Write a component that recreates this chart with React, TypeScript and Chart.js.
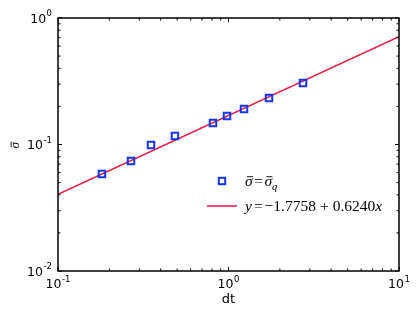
import React, { useEffect, useRef } from 'react';
import { Chart, registerables } from 'chart.js';
Chart.register(...registerables);

// Scatter data
const dtValues = [0.181, 0.268, 0.351, 0.485, 0.811, 0.98, 1.233, 1.728, 2.735];
const sigmaValues = [0.0585, 0.0741, 0.0991, 0.1167, 0.148, 0.168, 0.191, 0.233, 0.306];
// Fit line endpoints
const fitX = [0.1, 10];
const fitY = [0.0403, 0.7125];
// Tick labels
const xMajorTicks = [0.1, 1, 10];
const xTickExponents = ['-1', '0', '1'];
const yMajorTicks = [0.01, 0.1, 1];
const yTickExponents = ['-2', '-1', '0'];
const xAxisTitle = 'dt';

const BLUE = '#1634e8';
const RED = '#e8173f';

function minorTicks(min: number, max: number): number[] {
  const out: number[] = [];
  for (let d = Math.floor(Math.log10(min)); d < Math.ceil(Math.log10(max)); d++) {
    for (let k = 2; k <= 9; k++) {
      const v = k * Math.pow(10, d);
      if (v > min && v < max) out.push(v);
    }
  }
  return out;
}

function drawSigmaBar(ctx: CanvasRenderingContext2D, x: number, y: number, size: number, font: string) {
  ctx.font = `italic ${size}px ${font}`;
  ctx.fillText('σ', x, y);
  const w = ctx.measureText('σ').width;
  ctx.save();
  ctx.lineWidth = 0.9;
  ctx.beginPath();
  ctx.moveTo(x + w * 0.25, y - size * 0.6);
  ctx.lineTo(x + w * 1.05, y - size * 0.6);
  ctx.stroke();
  ctx.restore();
  return w;
}

const decorPlugin = {
  id: 'decor',
  afterDraw(chart: any) {
    const ctx: CanvasRenderingContext2D = chart.ctx;
    const { left, right, top, bottom } = chart.chartArea;
    const xs = chart.scales.x;
    const ys = chart.scales.y;
    ctx.save();
    ctx.strokeStyle = '#000';
    ctx.fillStyle = '#000';
    // frame
    ctx.lineWidth = 1.5;
    ctx.strokeRect(left, top, right - left, bottom - top);
    // ticks
    ctx.lineWidth = 1;
    const tick = (x1: number, y1: number, x2: number, y2: number) => {
      ctx.beginPath();
      ctx.moveTo(x1, y1);
      ctx.lineTo(x2, y2);
      ctx.stroke();
    };
    const xMinor = minorTicks(0.1, 10);
    const yMinor = minorTicks(0.01, 1);
    xMajorTicks.forEach(v => {
      const px = xs.getPixelForValue(v);
      tick(px, bottom, px, bottom - 4);
      tick(px, top, px, top + 4);
    });
    xMinor.forEach(v => {
      const px = xs.getPixelForValue(v);
      tick(px, bottom, px, bottom - 2.5);
      tick(px, top, px, top + 2.5);
    });
    yMajorTicks.forEach(v => {
      const py = ys.getPixelForValue(v);
      tick(left, py, left + 4, py);
      tick(right, py, right - 4, py);
    });
    yMinor.forEach(v => {
      const py = ys.getPixelForValue(v);
      tick(left, py, left + 2.5, py);
      tick(right, py, right - 2.5, py);
    });
    // tick labels
    const base = 12.5;
    const sup = 8.5;
    const sans = '"DejaVu Sans", sans-serif';
    ctx.textBaseline = 'alphabetic';
    ctx.textAlign = 'left';
    const drawPow = (x: number, y: number, exp: string, align: 'center' | 'right') => {
      ctx.font = `${base}px ${sans}`;
      const w1 = ctx.measureText('10').width;
      ctx.font = `${sup}px ${sans}`;
      const w2 = ctx.measureText(exp).width;
      const tot = w1 + w2 + 0.5;
      const sx = align === 'center' ? x - tot / 2 : x - tot;
      ctx.font = `${base}px ${sans}`;
      ctx.fillText('10', sx, y);
      ctx.font = `${sup}px ${sans}`;
      ctx.fillText(exp, sx + w1 + 0.5, y - 6.5);
    };
    xMajorTicks.forEach((v, i) => {
      drawPow(xs.getPixelForValue(v), 288, xTickExponents[i], 'center');
    });
    yMajorTicks.forEach((v, i) => {
      drawPow(left - 6, ys.getPixelForValue(v) + 4.5, yTickExponents[i], 'right');
    });
    // x title
    ctx.font = `13px ${sans}`;
    ctx.textAlign = 'center';
    ctx.fillText(xAxisTitle, (left + right) / 2, 303);
    ctx.textAlign = 'left';
    // y title (rotated sigma bar)
    const serif = '"Liberation Serif", serif';
    ctx.save();
    ctx.translate(19, (top + bottom) / 2 + 4);
    ctx.rotate(-Math.PI / 2);
    drawSigmaBar(ctx, 0, 0, 13, serif);
    ctx.restore();

    // legend
    const ls = 15.5;
    // marker
    ctx.strokeStyle = BLUE;
    ctx.lineWidth = 2;
    ctx.strokeRect(222 - 3.2, 181 - 3.2, 6.4, 6.4);
    // entry 1 text
    ctx.strokeStyle = '#000';
    let x = 245;
    let y = 186;
    x += drawSigmaBar(ctx, x, y, ls, serif);
    ctx.font = `${ls}px ${serif}`;
    ctx.fillText('=', x + 1.5, y);
    x += ctx.measureText('=').width + 3;
    x += drawSigmaBar(ctx, x, y, ls, serif);
    ctx.font = `italic 10.5px ${serif}`;
    ctx.fillText('q', x, y + 4);
    // entry 2
    ctx.strokeStyle = RED;
    ctx.lineWidth = 1.5;
    ctx.beginPath();
    ctx.moveTo(207, 206);
    ctx.lineTo(237, 206);
    ctx.stroke();
    x = 245;
    y = 211;
    const parts: [string, boolean][] = [
      ['y', true], ['=', false], ['\u22121.7758', false], ['+', false], ['0.6240', false], ['x', true],
    ];
    const gaps = [0, 2, 2, 4, 4, 0];
    parts.forEach(([t, it], i) => {
      x += gaps[i];
      ctx.font = `${it ? 'italic ' : ''}${ls}px ${serif}`;
      ctx.fillText(t, x, y);
      x += ctx.measureText(t).width;
    });
    ctx.restore();
  },
};

export default function App() {
  const ref = useRef<HTMLCanvasElement>(null);
  useEffect(() => {
    if (!ref.current) return;
    const chart = new Chart(ref.current, {
      type: 'scatter',
      data: {
        datasets: [
          {
            label: 'sigma',
            data: dtValues.map((x, i) => ({ x, y: sigmaValues[i] })),
            pointStyle: 'rect',
            pointRadius: 4.6,
            borderColor: BLUE,
            borderWidth: 2,
            backgroundColor: 'rgba(0,0,0,0)',
            showLine: false,
          },
          {
            label: 'fit',
            data: fitX.map((x, i) => ({ x, y: fitY[i] })),
            showLine: true,
            borderColor: RED,
            borderWidth: 1.5,
            pointRadius: 0,
          },
        ],
      } as any,
      options: {
        responsive: false,
        animation: false,
        layout: { padding: { top: 18, right: 21, left: 0, bottom: 0 } },
        plugins: { legend: { display: false }, tooltip: { enabled: false } },
        scales: {
          x: {
            type: 'logarithmic',
            min: 0.1,
            max: 10,
            grid: { display: false },
            border: { display: false },
            ticks: { display: false },
            afterFit: (s: any) => { s.height = 44; },
          },
          y: {
            type: 'logarithmic',
            min: 0.01,
            max: 1,
            grid: { display: false },
            border: { display: false },
            ticks: { display: false },
            afterFit: (s: any) => { s.width = 58; },
          },
        },
      } as any,
      plugins: [decorPlugin],
    });
    return () => chart.destroy();
  }, []);
  return (
    <div style={{ position: 'absolute', left: 0, top: 0, width: 420, height: 315, background: '#fff' }}>
      <canvas ref={ref} width={420} height={315} />
    </div>
  );
}
